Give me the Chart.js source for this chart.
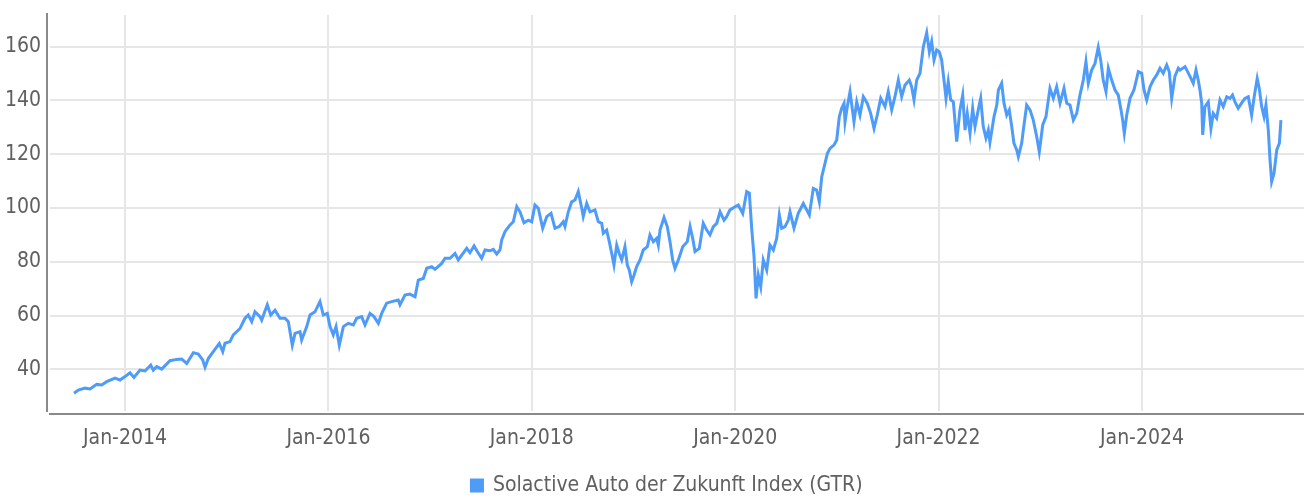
<!DOCTYPE html>
<html>
<head>
<meta charset="utf-8">
<script src="https://cdn.jsdelivr.net/npm/chart.js@4/dist/chart.umd.min.js"></script>
<style>
  html, body { margin: 0; padding: 0; background: #ffffff; }
  #wrap { width: 1304px; height: 498px; position: relative; }
</style>
</head>
<body>
<div id="wrap"><canvas id="c" width="1304" height="498"></canvas></div>
<script>
// ---- data (decimal year, index level) ----
const seriesName = 'Solactive Auto der Zukunft Index (GTR)';
const dates = [
  2013.499, 2013.541, 2013.607, 2013.656, 2013.722, 2013.771, 2013.820, 2013.902, 2013.951, 2014.000,
  2014.049, 2014.088, 2014.147, 2014.197, 2014.253, 2014.278, 2014.312, 2014.361, 2014.442, 2014.508,
  2014.558, 2014.607, 2014.672, 2014.721, 2014.764, 2014.787, 2014.819, 2014.868, 2014.927, 2014.961,
  2014.983, 2015.032, 2015.065, 2015.131, 2015.180, 2015.212, 2015.246, 2015.278, 2015.327, 2015.344,
  2015.399, 2015.433, 2015.475, 2015.524, 2015.573, 2015.606, 2015.645, 2015.672, 2015.721, 2015.737,
  2015.787, 2015.819, 2015.868, 2015.917, 2015.950, 2015.989, 2016.016, 2016.048, 2016.075, 2016.107,
  2016.147, 2016.196, 2016.245, 2016.278, 2016.327, 2016.360, 2016.409, 2016.448, 2016.491, 2016.524,
  2016.573, 2016.622, 2016.687, 2016.704, 2016.753, 2016.802, 2016.852, 2016.884, 2016.933, 2016.967,
  2017.016, 2017.048, 2017.114, 2017.147, 2017.196, 2017.245, 2017.277, 2017.311, 2017.360, 2017.392,
  2017.432, 2017.464, 2017.507, 2017.540, 2017.589, 2017.621, 2017.655, 2017.687, 2017.704, 2017.736,
  2017.786, 2017.818, 2017.852, 2017.884, 2017.923, 2017.966, 2017.999, 2018.031, 2018.064, 2018.107,
  2018.147, 2018.189, 2018.228, 2018.270, 2018.310, 2018.326, 2018.359, 2018.392, 2018.425, 2018.457,
  2018.491, 2018.506, 2018.540, 2018.572, 2018.621, 2018.654, 2018.687, 2018.703, 2018.736, 2018.762,
  2018.786, 2018.808, 2018.835, 2018.860, 2018.884, 2018.916, 2018.939, 2018.959, 2018.982, 2019.005,
  2019.031, 2019.064, 2019.096, 2019.136, 2019.162, 2019.195, 2019.228, 2019.244, 2019.261, 2019.300,
  2019.332, 2019.359, 2019.385, 2019.408, 2019.441, 2019.484, 2019.529, 2019.556, 2019.582, 2019.605,
  2019.647, 2019.686, 2019.720, 2019.752, 2019.785, 2019.818, 2019.851, 2019.890, 2019.916, 2019.949,
  2019.998, 2020.030, 2020.074, 2020.113, 2020.139, 2020.162, 2020.185, 2020.205, 2020.227, 2020.251,
  2020.276, 2020.310, 2020.342, 2020.375, 2020.408, 2020.434, 2020.457, 2020.490, 2020.522, 2020.539,
  2020.578, 2020.620, 2020.670, 2020.703, 2020.729, 2020.768, 2020.801, 2020.827, 2020.851, 2020.883,
  2020.906, 2020.932, 2020.971, 2020.998, 2021.024, 2021.047, 2021.070, 2021.080, 2021.102, 2021.129,
  2021.168, 2021.195, 2021.227, 2021.260, 2021.299, 2021.332, 2021.365, 2021.397, 2021.431, 2021.473,
  2021.505, 2021.539, 2021.571, 2021.604, 2021.637, 2021.670, 2021.712, 2021.735, 2021.758, 2021.785,
  2021.817, 2021.850, 2021.883, 2021.909, 2021.932, 2021.955, 2021.981, 2022.007, 2022.030, 2022.053,
  2022.073, 2022.095, 2022.119, 2022.145, 2022.178, 2022.210, 2022.237, 2022.260, 2022.282, 2022.309,
  2022.335, 2022.358, 2022.390, 2022.414, 2022.439, 2022.466, 2022.489, 2022.505, 2022.545, 2022.572,
  2022.588, 2022.620, 2022.643, 2022.670, 2022.695, 2022.719, 2022.741, 2022.768, 2022.784, 2022.817,
  2022.833, 2022.866, 2022.899, 2022.931, 2022.965, 2022.990, 2023.024, 2023.056, 2023.095, 2023.128,
  2023.161, 2023.194, 2023.233, 2023.260, 2023.292, 2023.325, 2023.358, 2023.390, 2023.423, 2023.449,
  2023.472, 2023.505, 2023.538, 2023.570, 2023.594, 2023.619, 2023.646, 2023.669, 2023.702, 2023.735,
  2023.767, 2023.794, 2023.810, 2023.826, 2023.850, 2023.882, 2023.921, 2023.964, 2023.997, 2024.020,
  2024.046, 2024.079, 2024.111, 2024.145, 2024.177, 2024.209, 2024.243, 2024.268, 2024.292, 2024.324,
  2024.357, 2024.374, 2024.423, 2024.472, 2024.504, 2024.531, 2024.553, 2024.570, 2024.587, 2024.597,
  2024.619, 2024.652, 2024.678, 2024.701, 2024.734, 2024.767, 2024.799, 2024.833, 2024.865, 2024.890,
  2024.914, 2024.946, 2024.979, 2025.012, 2025.045, 2025.078, 2025.101, 2025.133, 2025.153, 2025.177,
  2025.200, 2025.219, 2025.242, 2025.259, 2025.275, 2025.298, 2025.325, 2025.351, 2025.366
];
const values = [
  31.1, 32.3, 33.0, 32.7, 34.4, 34.2, 35.4, 36.7, 36.0, 37.3,
  38.7, 37.0, 39.7, 39.4, 41.6, 39.7, 41.0, 40.1, 43.2, 43.7,
  43.8, 42.2, 46.2, 45.7, 43.5, 40.8, 44.0, 46.6, 49.6, 46.6,
  49.7, 50.3, 52.8, 55.2, 59.0, 60.2, 57.7, 61.4, 59.6, 58.3,
  64.0, 60.2, 62.0, 59.0, 59.0, 57.7, 49.0, 53.4, 54.0, 50.9,
  55.9, 60.2, 61.4, 65.2, 60.2, 60.8, 55.9, 52.8, 55.9, 49.0,
  55.9, 57.1, 56.5, 59.0, 59.6, 56.5, 60.8, 59.6, 57.1, 60.8,
  64.6, 65.2, 65.8, 64.0, 67.6, 68.0, 67.0, 73.2, 73.8, 77.6,
  78.2, 77.2, 79.4, 81.3, 81.3, 83.1, 80.7, 82.5, 85.0, 83.4,
  85.9, 83.8, 81.3, 84.4, 84.1, 84.6, 82.9, 84.4, 88.1, 91.2,
  93.7, 94.9, 100.5, 98.6, 94.5, 95.5, 94.9, 101.1, 99.9, 92.5,
  96.8, 98.0, 92.5, 93.1, 94.9, 93.1, 98.6, 102.3, 103.0, 106.1,
  99.9, 96.8, 101.7, 98.6, 99.3, 94.9, 94.3, 90.6, 91.8, 87.5,
  83.1, 78.8, 86.2, 83.1, 80.7, 85.6, 78.8, 76.9, 72.6, 75.0,
  78.2, 80.7, 84.4, 85.6, 90.0, 87.5, 88.7, 86.2, 91.8, 96.5,
  93.1, 87.5, 80.7, 77.6, 80.7, 85.6, 87.5, 93.1, 88.7, 83.8,
  85.0, 94.3, 91.8, 90.0, 93.1, 94.3, 98.6, 95.5, 96.8, 99.3,
  100.5, 101.1, 98.0, 106.1, 105.5, 92.5, 82.1, 66.4, 75.0, 70.7,
  80.7, 76.9, 86.2, 84.4, 88.7, 97.4, 92.5, 93.1, 95.5, 98.6,
  92.5, 98.0, 101.7, 99.3, 97.4, 107.3, 106.7, 102.3, 111.6, 116.6,
  120.3, 122.2, 123.4, 125.3, 134.0, 137.1, 138.9, 132.1, 137.7, 143.3,
  132.1, 139.5, 134.6, 141.4, 138.9, 135.2, 129.6, 134.6, 140.8, 137.7,
  143.3, 136.5, 141.4, 147.6, 141.4, 145.8, 147.6, 145.1, 140.2, 147.6,
  150.1, 160.0, 165.2, 158.1, 161.9, 155.0, 158.8, 158.1, 155.0, 147.6,
  140.8, 147.0, 140.2, 139.5, 124.7, 136.5, 142.0, 129.0, 135.2, 127.8,
  137.1, 130.3, 136.5, 140.8, 130.3, 126.0, 129.0, 124.5, 134.0, 138.3,
  143.9, 146.4, 139.0, 134.6, 136.5, 130.3, 124.1, 121.6, 119.1, 124.1,
  129.0, 138.3, 136.5, 132.7, 126.5, 120.9, 130.9, 134.0, 144.5, 140.8,
  145.1, 139.0, 144.5, 139.0, 138.3, 132.7, 135.2, 142.0, 147.6, 154.4,
  146.4, 151.3, 153.8, 159.8, 155.0, 147.6, 143.3, 152.0, 147.6, 143.9,
  142.0, 136.5, 132.7, 127.8, 134.6, 140.8, 143.9, 150.7, 150.1, 143.9,
  140.2, 145.1, 147.6, 149.5, 152.0, 150.1, 153.2, 150.7, 140.8, 149.0,
  152.0, 151.3, 152.6, 149.0, 146.4, 151.3, 147.6, 143.9, 139.0, 127.2,
  137.7, 139.5, 129.6, 135.2, 133.4, 140.2, 137.7, 141.4, 140.8, 142.0,
  139.5, 137.1, 139.0, 140.8, 141.4, 134.6, 140.8, 148.2, 144.5, 137.7,
  134.0, 138.3, 129.0, 117.9, 109.8, 112.9, 121.6, 124.1, 132.7
];
const xTickValues = [2014, 2016, 2018, 2020, 2022, 2024];
const xTickLabels = ['Jan-2014', 'Jan-2016', 'Jan-2018', 'Jan-2020', 'Jan-2022', 'Jan-2024'];
const yTickValues = [40, 60, 80, 100, 120, 140, 160];

// ---- styles ----
const FONT = '"DejaVu Sans Condensed", "Liberation Sans Narrow", sans-serif';
const TEXT = '#606060';
const LINE = '#4e9bf8';
const GRID = '#e6e6e6';
const AXIS = '#8a8a8a';

const points = dates.map((d, i) => ({ x: d, y: values[i] }));

const axisLines = {
  id: 'axisLines',
  afterDraw(chart) {
    const { ctx, chartArea } = chart;
    ctx.save();
    ctx.strokeStyle = AXIS;
    ctx.lineWidth = 2;
    ctx.beginPath();
    ctx.moveTo(chartArea.left - 3, chartArea.top - 2);
    ctx.lineTo(chartArea.left - 3, chartArea.bottom + 1);
    ctx.moveTo(chartArea.left - 1, chartArea.bottom + 3);
    ctx.lineTo(chart.width, chartArea.bottom + 3);
    ctx.stroke();
    ctx.restore();
  }
};

const legendShift = {
  id: 'legendShift',
  afterLayout(chart) {
    const lg = chart.legend;
    if (lg) { lg.left += 15; lg.right += 15; lg.top += 8; lg.bottom += 8; }
  }
};

function noPad(scale) {
  scale.paddingTop = 0; scale.paddingBottom = 0;
  scale.paddingLeft = 0; scale.paddingRight = 0;
}

new Chart(document.getElementById('c'), {
  type: 'line',
  data: {
    datasets: [{
      label: seriesName,
      data: points,
      borderColor: LINE,
      backgroundColor: LINE,
      borderWidth: 3,
      pointRadius: 0,
      tension: 0,
      fill: false
    }]
  },
  options: {
    responsive: false,
    animation: false,
    events: [],
    layout: { padding: { top: 15, left: 0, right: 0, bottom: 0 } },
    plugins: {
      tooltip: { enabled: false },
      legend: {
        position: 'bottom',
        labels: {
          boxWidth: 11,
          boxHeight: 11,
          color: TEXT,
          padding: 10,
          font: { family: FONT, size: 21 }
        }
      }
    },
    scales: {
      x: {
        type: 'linear',
        min: 2013.2625,
        max: 2025.593,
        afterBuildTicks(scale) { scale.ticks = xTickValues.map(v => ({ value: v })); },
        afterFit(scale) { scale.height = 46; noPad(scale); },
        grid: { color: GRID, lineWidth: 2, drawTicks: false },
        border: { display: false },
        ticks: {
          autoSkip: false,
          maxRotation: 0,
          padding: 15,
          color: TEXT,
          font: { family: FONT, size: 21 },
          callback: (v, i) => xTickLabels[i]
        }
      },
      y: {
        type: 'linear',
        min: 24.5,
        max: 171.8,
        afterBuildTicks(scale) { scale.ticks = yTickValues.map(v => ({ value: v })); },
        afterFit(scale) { scale.width = 50; noPad(scale); },
        grid: { color: GRID, lineWidth: 2, drawTicks: false },
        border: { display: false },
        ticks: {
          padding: 9,
          color: TEXT,
          font: { family: FONT, size: 21 }
        }
      }
    }
  },
  plugins: [axisLines, legendShift]
});
</script>
</body>
</html>
